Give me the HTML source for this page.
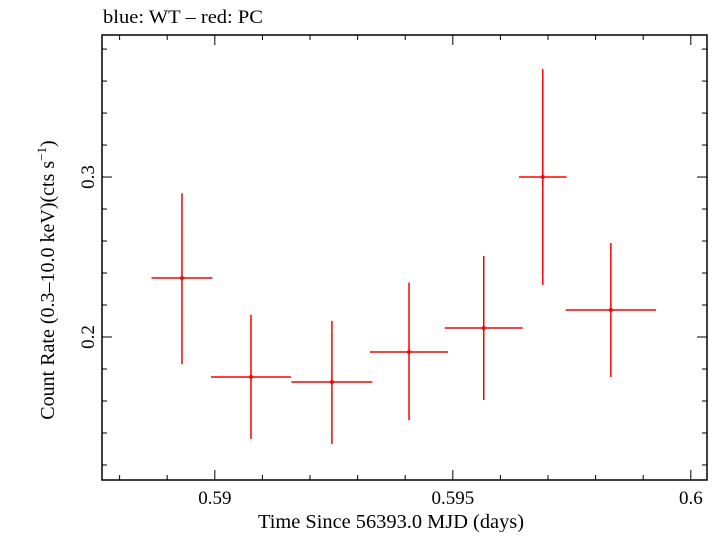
<!DOCTYPE html>
<html><head><meta charset="utf-8"><style>
body{margin:0;background:#fff;width:718px;height:532px;overflow:hidden}
text{font-family:"Liberation Serif",serif;fill:#000}
</style></head><body>
<svg id="chart" width="718" height="532" viewBox="0 0 718 532" xmlns="http://www.w3.org/2000/svg">
<text x="103" y="23" font-size="19" textLength="160" lengthAdjust="spacingAndGlyphs">blue: WT – red: PC</text>
<rect x="102" y="35" width="605" height="445" fill="none" stroke="#000" stroke-width="1.5"/>
<g id="axes"></g>
<g id="marks"></g>
<text x="391" y="528" font-size="20" text-anchor="middle" textLength="266" lengthAdjust="spacingAndGlyphs">Time Since 56393.0 MJD (days)</text>
<text transform="translate(54,280) rotate(-90)" font-size="20" text-anchor="middle">Count Rate (0.3–10.0 keV)(cts s<tspan font-size="13" dy="-8">−1</tspan><tspan dy="8">)</tspan></text>
</svg>
<script>
const times=[0.58931,0.59076,0.59246,0.59408,0.59565,0.59689,0.59832];
const timeErr=[0.00064,0.00084,0.00085,0.00082,0.00082,0.0005,0.00095];
const rates=[0.2369,0.175,0.1719,0.1906,0.2056,0.300,0.2169];
const rateErrHi=[0.053,0.0388,0.0381,0.0434,0.045,0.0675,0.0419];
const rateErrLo=[0.0539,0.0387,0.0389,0.0426,0.045,0.0675,0.0419];
const xTickLabels=["0.59","0.595","0.6"];
const yTickLabels=["0.2","0.3"];
const X0=102,X1=707,Y0=480,Y1=35;
const xMin=0.58763,xMax=0.60034,yMin=0.1106,yMax=0.3888;
const xs=v=>X0+(v-xMin)/(xMax-xMin)*(X1-X0);
const ys=v=>Y0-(v-yMin)/(yMax-yMin)*(Y0-Y1);
const NS="http://www.w3.org/2000/svg";
function mk(tag,attrs,parent){const e=document.createElementNS(NS,tag);for(const k in attrs)e.setAttribute(k,attrs[k]);parent.appendChild(e);return e;}
const axes=document.getElementById('axes'),marks=document.getElementById('marks');
for(let i=0;i<=13;i++){const v=0.588+i*0.001;if(v>xMax)break;const x=xs(v);const major=Math.abs(Math.round(v*200)-v*200)<1e-6;const L=major?10:5;
 let t=mk('line',{x1:x,x2:x,y1:Y0,y2:Y0-L,stroke:'#000','stroke-width':1},axes);
 
 
 t=mk('line',{x1:x,x2:x,y1:Y1,y2:Y1+L,stroke:'#000','stroke-width':1},axes);
 
 }
xTickLabels.forEach(s=>{const t=mk('text',{x:xs(parseFloat(s)),y:504,'font-size':19,'text-anchor':'middle'},axes);t.textContent=s;
 
 });
for(let i=0;i<=20;i++){const v=0.12+i*0.02;if(v>yMax)break;const y=ys(v);const major=Math.abs(v*10-Math.round(v*10))<1e-6;const L=major?10:5;
 let t=mk('line',{x1:X0,x2:X0+L,y1:y,y2:y,stroke:'#000','stroke-width':1},axes);
 
 
 t=mk('line',{x1:X1,x2:X1-L,y1:y,y2:y,stroke:'#000','stroke-width':1},axes);
 
 }
yTickLabels.forEach(s=>{const y=ys(parseFloat(s));const t=mk('text',{transform:`translate(94,${y}) rotate(-90)`,'font-size':19,'text-anchor':'middle'},axes);t.textContent=s;
 
 });
times.forEach((tv,i)=>{const g=mk('g',{},marks);
 
 
 const x=xs(tv),y=ys(rates[i]);
 mk('line',{x1:xs(tv-timeErr[i]),x2:xs(tv+timeErr[i]),y1:y,y2:y,stroke:'#f00','stroke-width':1.5},g);
 mk('line',{x1:x,x2:x,y1:ys(rates[i]+rateErrHi[i]),y2:ys(rates[i]-rateErrLo[i]),stroke:'#f00','stroke-width':1.5},g);
 mk('circle',{cx:x,cy:y,r:2,fill:'#f00'},g);});
</script>
</body></html>
